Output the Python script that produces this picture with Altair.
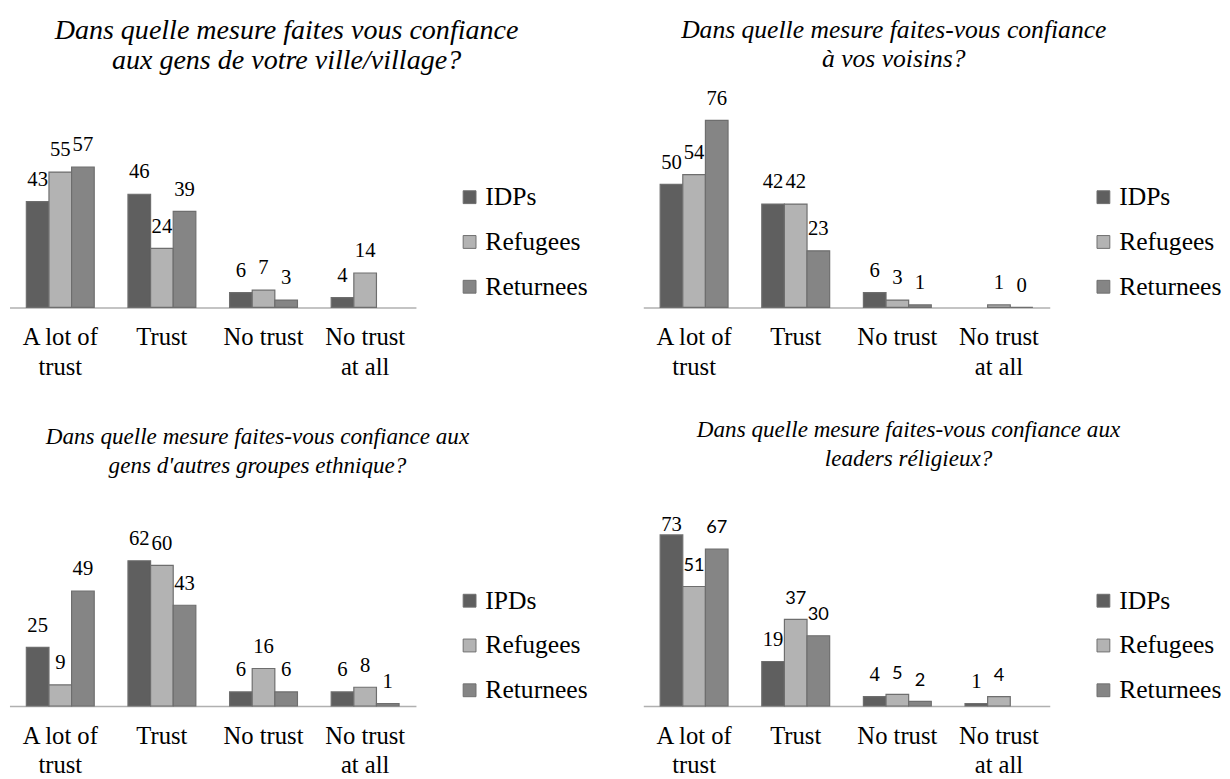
import altair as alt
import pandas as pd

categories = ["A lot of trust", "Trust", "No trust", "No trust at all"]

# Panel 1
p1_title = ["Dans quelle mesure faites vous confiance", "aux gens de votre ville/village?"]
p1_series = ["IDPs", "Refugees", "Returnees"]
p1_idps = [43, 46, 6, 4]
p1_refugees = [55, 24, 7, 14]
p1_returnees = [57, 39, 3, None]

# Panel 2
p2_title = ["Dans quelle mesure faites-vous confiance", "à vos voisins?"]
p2_series = ["IDPs", "Refugees", "Returnees"]
p2_idps = [50, 42, 6, None]
p2_refugees = [54, 42, 3, 1]
p2_returnees = [76, 23, 1, 0]

# Panel 3
p3_title = ["Dans quelle mesure faites-vous confiance aux", "gens d'autres groupes ethnique?"]
p3_series = ["IPDs", "Refugees", "Returnees"]
p3_idps = [25, 62, 6, 6]
p3_refugees = [9, 60, 16, 8]
p3_returnees = [49, 43, 6, 1]

# Panel 4
p4_title = ["Dans quelle mesure faites-vous confiance aux", "leaders réligieux?"]
p4_series = ["IDPs", "Refugees", "Returnees"]
p4_idps = [73, 19, 4, 1]
p4_refugees = [51, 37, 5, 4]
p4_returnees = [67, 30, 2, None]

colors = ["#5f5f5f", "#b3b3b3", "#858585"]
SERIF = "Liberation Serif"
SANS = "Lato"

W = 413
H = 200


def make_panel(title, series, vals, ymax, label_fonts, title_size, title_dx,
               title_offset, legend_y, label_cap):
    rows = []
    for s, sv, lf in zip(series, vals, label_fonts):
        for c, v in zip(categories, sv):
            if v is None:
                continue
            rows.append({"cat": c, "series": s, "v": v, "font": lf})
    df = pd.DataFrame(rows)
    unit_off = 22 * ymax / H

    base = alt.Chart(df).encode(
        x=alt.X(
            "cat:N",
            sort=categories,
            scale=alt.Scale(domain=categories, paddingInner=0.332, paddingOuter=0.166),
            axis=alt.Axis(
                title=None, labelAngle=0, labelFont=SERIF, labelFontSize=25,
                labelColor="black", labelLineHeight=30, labelPadding=18,
                ticks=False, tickSize=0, domainColor="#b0b0b0", domainWidth=1.5,
                labelOverlap=False, labelLimit=300, grid=False,
                labelExpr="datum.label == 'A lot of trust' ? ['A lot of', 'trust'] : "
                          "datum.label == 'No trust at all' ? ['No trust', 'at all'] : datum.label",
            ),
        ),
        xOffset=alt.XOffset(
            "series:N",
            scale=alt.Scale(domain=series, paddingInner=0, paddingOuter=0),
        ),
    )

    bars = base.mark_bar(stroke="#6e6e6e", strokeWidth=1.2).encode(
        y=alt.Y("v:Q", scale=alt.Scale(domain=[0, ymax], nice=False, zero=True), axis=None),
        color=alt.Color(
            "series:N",
            scale=alt.Scale(domain=series, range=colors),
            legend=alt.Legend(
                title=None, orient="none", legendX=454.5, legendY=legend_y,
                symbolType="square", symbolSize=170, symbolStrokeColor="#6e6e6e",
                symbolStrokeWidth=1, symbolOpacity=1,
                labelFont=SERIF, labelFontSize=26, labelColor="black",
                rowPadding=19.5, labelOffset=3, padding=0, labelLimit=0,
            ),
        ),
    )

    texts = base.transform_calculate(
        ly=f"min(datum.v + {unit_off}, {label_cap})"
    ).encode(
        y=alt.Y("ly:Q", scale=alt.Scale(domain=[0, ymax], nice=False, zero=True), axis=None),
        text=alt.Text("v:Q"),
    )
    t_serif = texts.transform_filter("datum.font == 'serif'").mark_text(
        font=SERIF, fontSize=21, baseline="middle", align="center", color="black"
    )
    t_sans = texts.transform_filter("datum.font == 'sans'").mark_text(
        font=SANS, fontSize=18.5, baseline="middle", align="center", color="black"
    )

    return alt.layer(bars, t_serif, t_sans).properties(
        width=W,
        height=H,
        title=alt.TitleParams(
            text=title, font=SERIF, fontStyle="italic", fontWeight="normal",
            fontSize=title_size, color="black", lineHeight=30, anchor="middle",
            frame="group", dx=title_dx, offset=title_offset,
        ),
    )


p1 = make_panel(p1_title, p1_series, [p1_idps, p1_refugees, p1_returnees], 80,
                ["serif"] * 3, 28.5, 75, 37, 75, 999)
p2 = make_panel(p2_title, p2_series, [p2_idps, p2_refugees, p2_returnees], 80,
                ["serif"] * 3, 26, 48, 16, 75, 999)
p3 = make_panel(p3_title, p3_series, [p3_idps, p3_refugees, p3_returnees], 84,
                ["serif"] * 3, 23.5, 45.5, 32, 80, 999)
p4 = make_panel(p4_title, p4_series, [p4_idps, p4_refugees, p4_returnees], 84,
                ["serif", "sans", "sans"], 23.5, 63, 39, 80, 77.4)

chart = alt.concat(
    p1, p2, p3, p4, columns=2,
    spacing={"row": 205, "column": 231}, bounds="flush",
).resolve_scale(
    color="independent", x="independent", y="independent", xOffset="independent"
).resolve_legend(color="independent").properties(
    padding={"left": 1.5, "top": 2, "right": 0, "bottom": 0},
    background="white",
).configure_view(stroke=None)

chart.save("out.html", embed_options={"renderer": "svg", "actions": False})
